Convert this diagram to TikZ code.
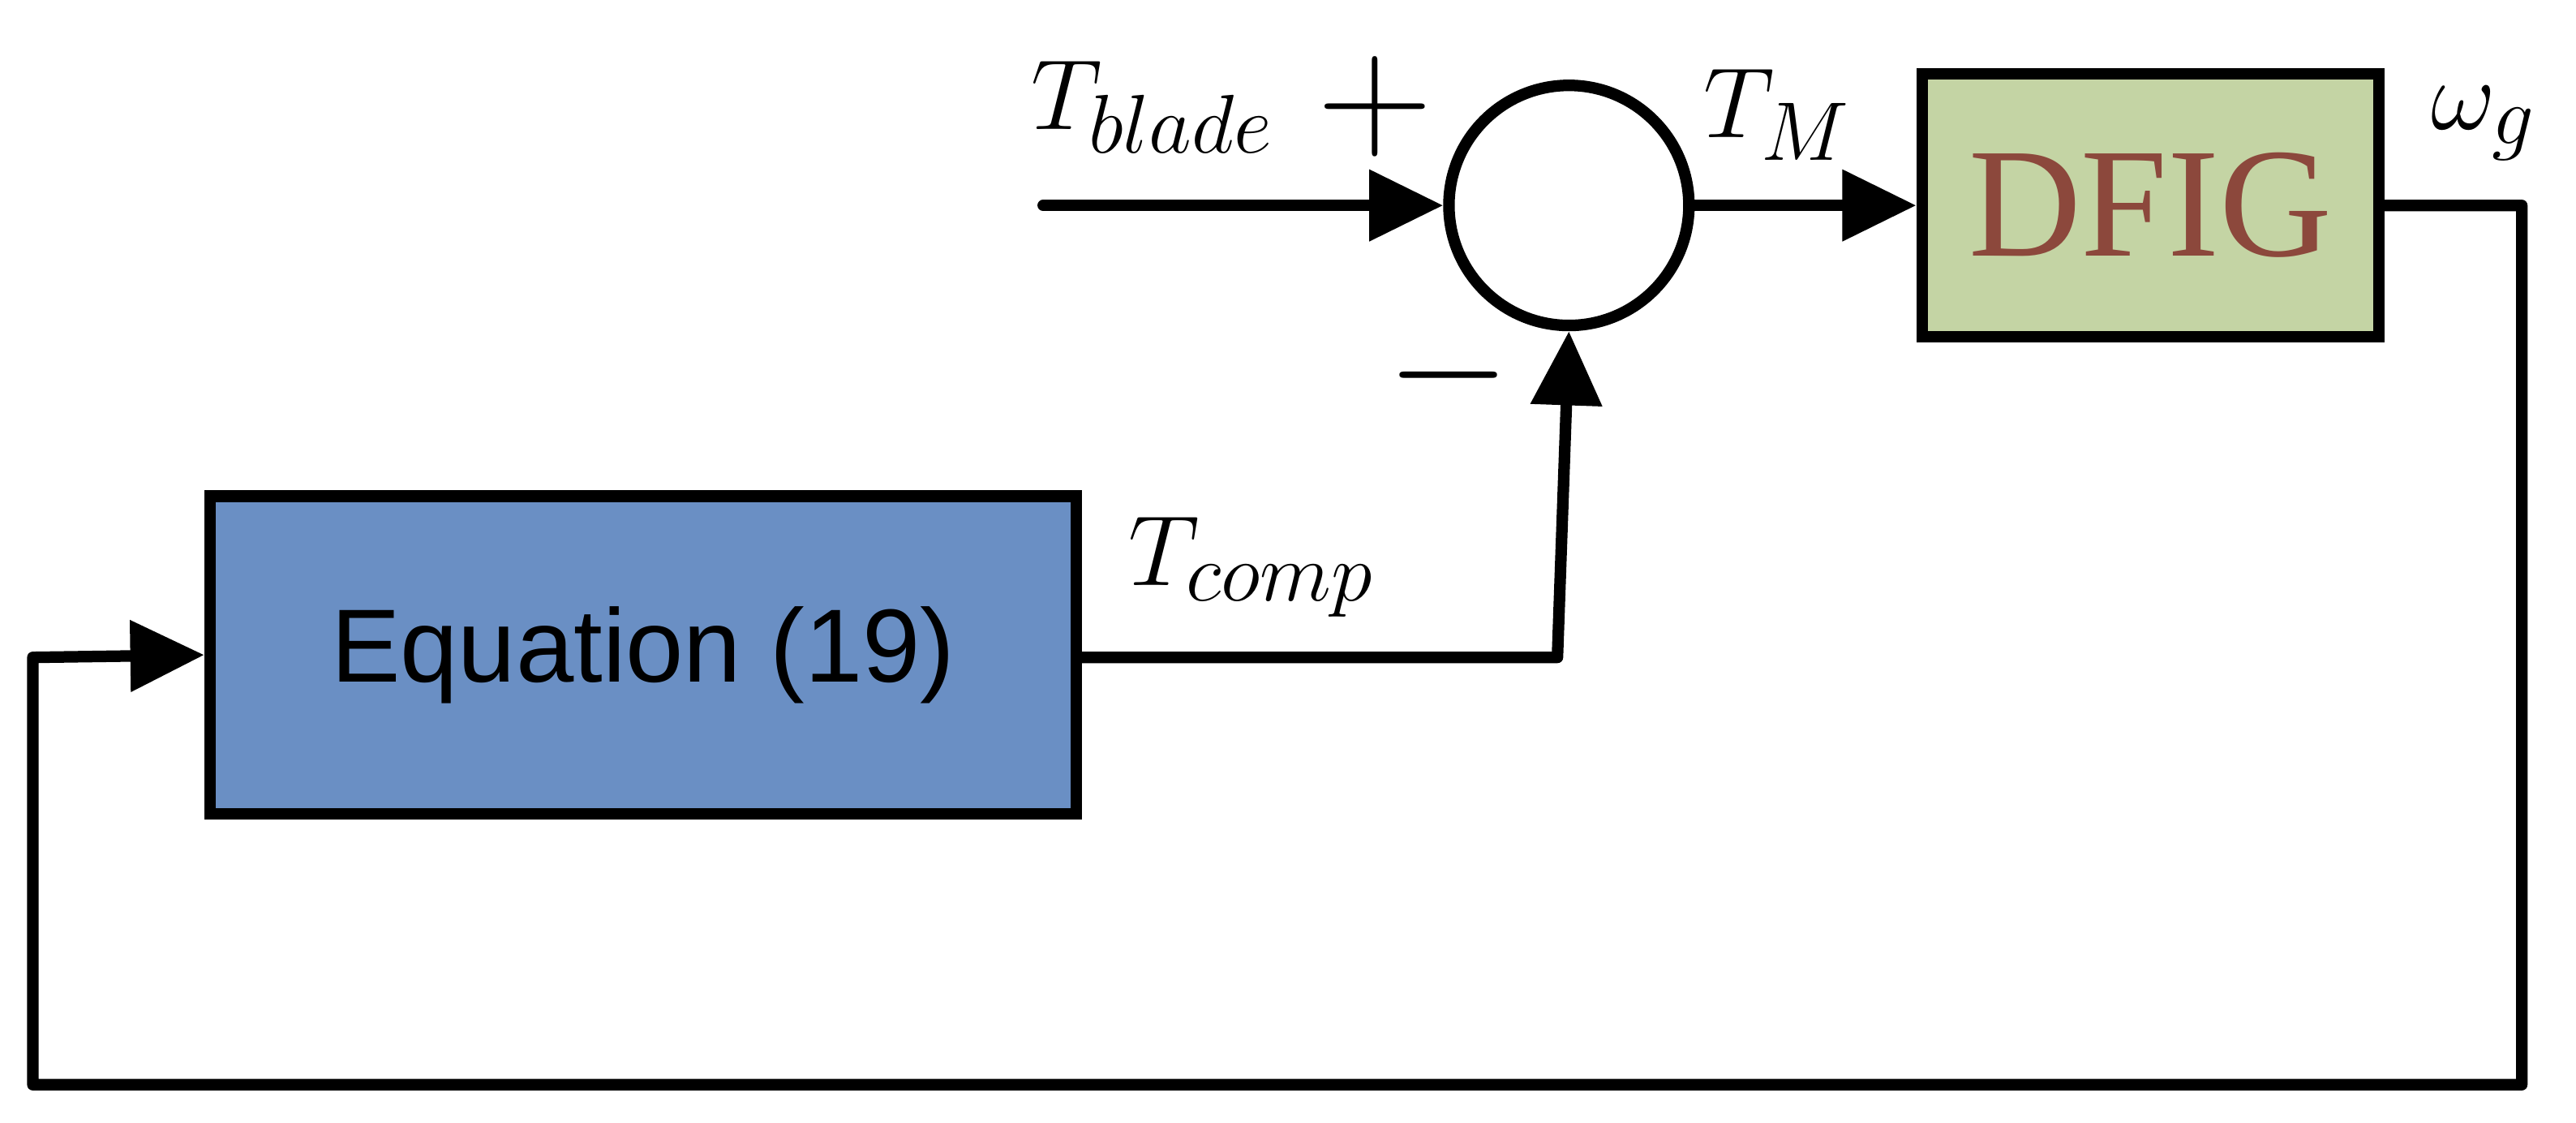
\documentclass[tikz,border=0pt]{standalone}
\usepackage{fontspec}
\setmainfont{Liberation Serif}
\newfontfamily\arialfont{Liberation Sans}
\usetikzlibrary{arrows.meta,positioning}
\definecolor{dfiggreen}{RGB}{196,212,164}
\definecolor{dfigtext}{RGB}{140,72,60}
\definecolor{eqblue}{RGB}{106,143,196}
\begin{document}
\begin{tikzpicture}[x=0.01cm,y=-0.01cm,line width=2pt,
    blk/.style={draw,rectangle,line cap=rect},
    sig/.style={-{Triangle[length=0.45cm,width=0.42cm]}},
    lbl/.style={font=\fontsize{19}{22}\selectfont}]

\useasboundingbox (0,0) rectangle (1568,683);

% Summing junction and blocks
\node[draw,circle,minimum size=1.46cm,inner sep=0pt] (sum) at (955,125) {};
\node[blk,fill=dfiggreen,minimum width=2.78cm,minimum height=1.6cm,
    text=dfigtext,font=\fontsize{27}{30}\selectfont] (dfig) at (1309,125) {DFIG};
\node[blk,fill=eqblue,minimum width=5.27cm,minimum height=1.93cm,
    font=\arialfont\fontsize{18}{21}\selectfont] (eq) at (391.5,398.5) {Equation (19)};

% Free ends of the connectors
\coordinate (in) at (635,125);
\coordinate (out) at (1535,125);
\coordinate (bot) at (1535,660);
\coordinate (left) at (20,660);
\coordinate (ret) at (20,400);
\coordinate (comp) at (948,400);

% Connectors
\draw[sig,line cap=round] (in) -- (sum.west);
\draw[sig] (sum.east) -- (dfig.west);
\draw[sig,line join=round] (dfig.east) -- (out) -- (bot) -- (left) -- (ret) -- (eq.west);
\draw[sig,line join=round] (eq.east |- comp) -- (comp) -- (sum.south);

% Labels
\node[lbl] at (702,65) {$T_{blade}$};
\node[lbl,scale=1.6] at (837,65) {$+$};
\node[lbl,scale=1.6] at (882,228) {$-$};
\node[lbl] at (1082,70) {$T_M$};
\node[lbl] at (1512,75) {$\omega_g$};
\node[lbl] at (762,345) {$T_{comp}$};
\end{tikzpicture}
\end{document}
